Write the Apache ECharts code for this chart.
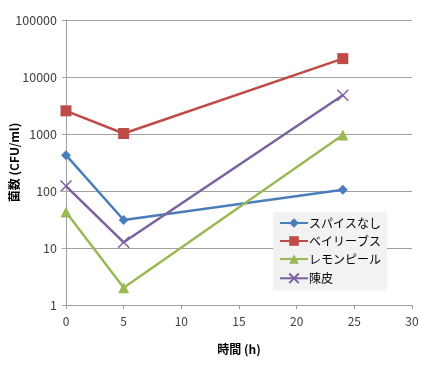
<!DOCTYPE html>
<html><head><meta charset="utf-8">
<script src="https://cdn.jsdelivr.net/npm/echarts@6/dist/echarts.min.js"></script>
<style>html,body{margin:0;padding:0;background:#fff}#c{width:445px;height:372px}</style>
</head><body><div id="c"></div>
<script>
const times = [0, 5, 24];
const seriesNames = ['スパイスなし', 'ベイリーブス', 'レモンピール', '陳皮'];
const spiceNone = [425, 31, 105];
const bayLeaves = [2550, 1020, 21000];
const lemonPeel = [43, 2, 960];
const chenpi = [122, 12.6, 4800];
const xTicks = [0, 5, 10, 15, 20, 25, 30];
const yTicks = [1, 10, 100, 1000, 10000, 100000];

const colors = ['#4A7EBB', '#BE4B48', '#98B954', '#7D60A0'];
const symbols = ['diamond', 'rect', 'triangle', 'path://M0,0L10,10M10,0L0,10'];
const sizes = [10, 11, 11, 11];
const allData = [spiceNone, bayLeaves, lemonPeel, chenpi];
const font = '"Noto Sans CJK JP", "DejaVu Sans", sans-serif';

const chart = echarts.init(document.getElementById('c'));
chart.setOption({
  animation: false,
  textStyle: {fontFamily: font},
  grid: {left: 66, right: 33, top: 20, bottom: 67, containLabel: false, outerBoundsMode: 'none'},
  xAxis: {
    type: 'value', min: xTicks[0], max: xTicks[xTicks.length - 1], interval: 5,
    name: '時間 (h)', nameLocation: 'middle', nameGap: 38,
    nameTextStyle: {fontSize: 12, fontWeight: 'bold', color: '#000', fontFamily: font},
    axisLine: {show: true, lineStyle: {color: '#a0a0a0'}},
    axisTick: {show: true, inside: false, length: 4, lineStyle: {color: '#a0a0a0'}},
    axisLabel: {color: '#404040', fontSize: 12, margin: 10, fontFamily: font},
    splitLine: {show: false}
  },
  yAxis: {
    type: 'log', logBase: 10, min: yTicks[0], max: yTicks[yTicks.length - 1],
    name: '菌数 (CFU/ml)', nameLocation: 'middle', nameGap: 46, nameRotate: 90,
    nameMoveOverlap: false,
    nameTextStyle: {fontSize: 12, fontWeight: 'bold', color: '#000', fontFamily: font},
    axisLine: {show: true, lineStyle: {color: '#a0a0a0'}},
    axisTick: {show: true, inside: false, length: 4, lineStyle: {color: '#a0a0a0'}},
    axisLabel: {color: '#404040', fontSize: 12.5, margin: 9, fontFamily: font,
      formatter: v => String(Math.round(v))},
    splitLine: {show: true, lineStyle: {color: '#a0a0a0', width: 1}}
  },
  legend: {
    left: 273, top: 212, width: 117, height: 87,
    orient: 'vertical', itemGap: 6, itemWidth: 28, itemHeight: 12,
    backgroundColor: '#f2f2f2', borderWidth: 0, padding: [5, 6, 5, 6],
    textStyle: {fontSize: 12, color: '#000', fontFamily: font, padding: [0, 0, 0, -4]},
    data: seriesNames
  },
  series: allData.map((d, i) => ({
    name: seriesNames[i],
    type: 'line',
    data: times.map((t, j) => [t, d[j]]),
    symbol: symbols[i],
    symbolSize: sizes[i],
    showSymbol: true,
    color: colors[i],
    lineStyle: {width: 2.5, color: colors[i]},
    itemStyle: i === 3 ? {color: 'none', borderColor: colors[i], borderWidth: 1.5} : {color: colors[i]}
  }))
});
</script></body></html>
